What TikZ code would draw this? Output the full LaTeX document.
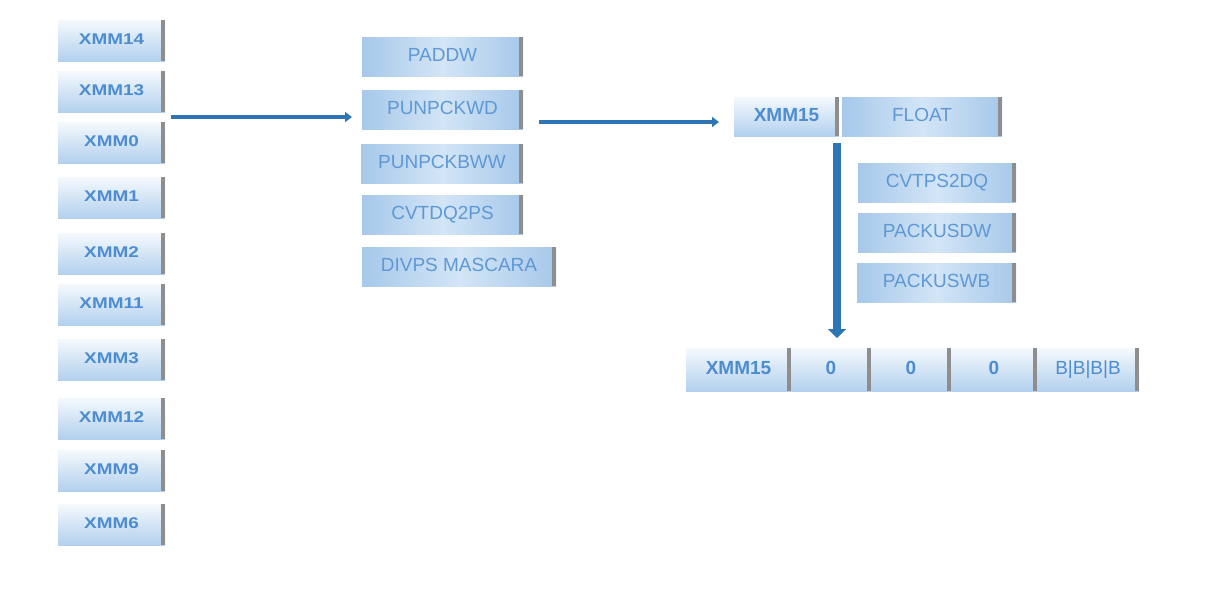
\documentclass[tikz,border=0pt]{standalone}
\usepackage{fontspec}
\setmainfont{Liberation Sans}
\usetikzlibrary{arrows.meta}
\definecolor{regtop}{HTML}{F5F9FD}
\definecolor{regbot}{HTML}{B2D0EE}
\definecolor{insedge}{HTML}{A6C8EA}
\definecolor{insmid}{HTML}{D3E5F6}
\definecolor{txtblue}{HTML}{4C8DD2}
\definecolor{instxt}{HTML}{5E98D5}
\definecolor{bargray}{HTML}{8E8E8E}
\definecolor{arrowblue}{HTML}{2E75B6}
\newcommand\lbox[1]{\raisebox{3pt}{\scalebox{1.22}[1]{\fontsize{15.5}{16}\selectfont\bfseries #1}}\hspace{4.5pt}}
\newcommand\tbox[1]{\raisebox{2.5pt}{#1}\hspace{4.5pt}}
\tikzset{
  barbox/.style={rectangle, inner sep=0pt, draw=none,
    path picture={\fill[bargray] ([xshift=-4.5pt]path picture bounding box.north east) rectangle (path picture bounding box.south east);}},
  regbox/.style={barbox, top color=regtop, bottom color=regbot, text=txtblue},
  insbox/.style={barbox, left color=insedge, right color=insedge, middle color=insmid, text=instxt, font=\fontsize{19}{20}\selectfont},
  bigreg/.style={regbox, font=\fontsize{19}{20}\selectfont\bfseries},
  valbox/.style={regbox, font=\fontsize{19}{20}\selectfont},
  leftreg/.style={regbox, minimum width=107pt, minimum height=41pt},
  harrow/.style={draw=arrowblue, line width=4.5pt, -{Triangle[length=7pt,width=10pt]}},
  varrow/.style={draw=arrowblue, line width=8pt, -{Triangle[length=9pt,width=18pt]}}
}
\begin{document}
\begin{tikzpicture}[x=1pt,y=-1pt]
\useasboundingbox (0,0) rectangle (1215,606);
% left column
\node[leftreg] (x14) at (111.5,40.5) {\lbox{XMM14}};
\node[leftreg] (x13) at (111.5,91.5) {\lbox{XMM13}};
\node[leftreg] (x0) at (111.5,142.5) {\lbox{XMM0}};
\node[leftreg] (x1) at (111.5,197.5) {\lbox{XMM1}};
\node[leftreg] (x2) at (111.5,253.5) {\lbox{XMM2}};
\node[leftreg] (x11) at (111.5,304.5) {\lbox{XMM11}};
\node[leftreg] (x3) at (111.5,359.5) {\lbox{XMM3}};
\node[leftreg] (x12) at (111.5,418.5) {\lbox{XMM12}};
\node[leftreg] (x9) at (111.5,470.5) {\lbox{XMM9}};
\node[leftreg] (x6) at (111.5,524.5) {\lbox{XMM6}};
% middle column
\node[insbox, minimum width=161pt, minimum height=39pt] (paddw) at (442.5,56.5) {\tbox{PADDW}};
\node[insbox, minimum width=161pt, minimum height=39pt] (punpckwd) at (442.5,109.5) {\tbox{PUNPCKWD}};
\node[insbox, minimum width=162pt, minimum height=39pt] (punpckbww) at (442,163.5) {\tbox{PUNPCKBWW}};
\node[insbox, minimum width=161pt, minimum height=39pt] (cvtdq) at (442.5,214.5) {\tbox{CVTDQ2PS}};
\node[insbox, minimum width=194pt, minimum height=39pt] (divps) at (459,266.5) {\tbox{DIVPS MASCARA}};
% right top
\node[bigreg, minimum width=105pt, minimum height=39pt] (xmm15a) at (786.5,116.5) {\tbox{XMM15}};
\node[insbox, minimum width=160pt, minimum height=39pt] (float) at (922,116.5) {\tbox{FLOAT}};
\node[insbox, minimum width=158pt, minimum height=39pt] (cvtps) at (937,182.5) {\tbox{CVTPS2DQ}};
\node[insbox, minimum width=158pt, minimum height=39pt] (packusdw) at (937,232.5) {\tbox{PACKUSDW}};
\node[insbox, minimum width=159pt, minimum height=39pt] (packuswb) at (936.5,282.5) {\tbox{PACKUSWB}};
% bottom row
\node[bigreg, minimum width=105pt, minimum height=43pt] (xmm15b) at (738.5,369.5) {\tbox{XMM15}};
\node[bigreg, minimum width=80pt, minimum height=43pt] (z1) at (831,369.5) {\tbox{0}};
\node[bigreg, minimum width=80pt, minimum height=43pt] (z2) at (911,369.5) {\tbox{0}};
\node[bigreg, minimum width=86pt, minimum height=43pt] (z3) at (994,369.5) {\tbox{0}};
\node[valbox, minimum width=102pt, minimum height=43pt] (bbbb) at (1088,369.5) {\tbox{B|B|B|B}};
% arrows
\coordinate (a1s) at (171,117);
\coordinate (a1e) at (352,117);
\coordinate (a2s) at (539,122);
\coordinate (a2e) at (719,122);
\coordinate (a3s) at (837,143);
\coordinate (a3e) at (837,338);
\draw[harrow] (a1s) -- (a1e);
\draw[harrow] (a2s) -- (a2e);
\draw[varrow] (a3s) -- (a3e);
\end{tikzpicture}
\end{document}
